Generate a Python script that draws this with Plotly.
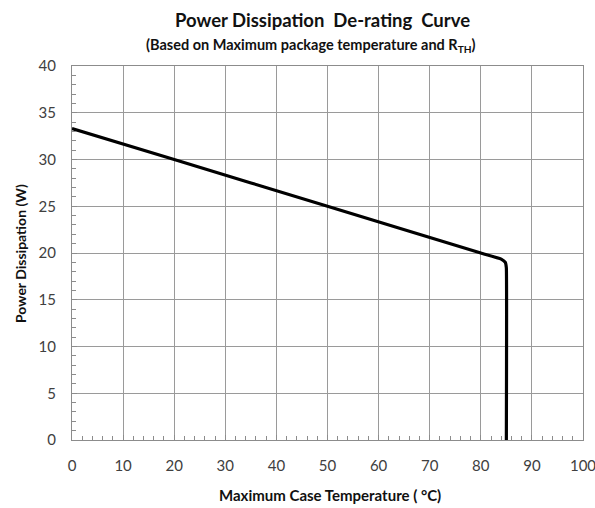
import plotly.graph_objects as go

# Data
temp_c = [0, 20, 50, 80, 84.0, 84.8, 85.0, 85.0]
power_w = [33.3, 30.0, 25.0, 20.0, 19.35, 19.0, 18.4, 0]

x_ticks = list(range(0, 101, 10))
y_ticks = list(range(0, 41, 5))

L, R, T, B = 72, 12, 66, 68
W, H = 595, 508
plot_w = W - L - R
plot_h = H - T - B

def px_x(px):
    return (px - L) / plot_w

def px_y(py):
    return (H - B - py) / plot_h

fig = go.Figure()
fig.add_trace(go.Scatter(
    x=temp_c, y=power_w, mode="lines",
    line=dict(color="black", width=3.2, shape="spline", smoothing=0.3),
    showlegend=False, hoverinfo="skip"))

font_main = "Lato, Open Sans, sans-serif"
axis_common = dict(
    automargin=False, ticklabeloverflow="allow",
    showline=True, linecolor="#8c8c8c", linewidth=1, mirror=True,
    showgrid=True, gridcolor="#9a9a9a", gridwidth=1, zeroline=False,
    ticks="inside", ticklen=5, tickcolor="#8c8c8c",
    tickfont=dict(family=font_main, size=15, color="#404040"),
)

fig.update_layout(
    width=W, height=H,
    margin=dict(l=L, r=R, t=T, b=B),
    paper_bgcolor="white", plot_bgcolor="white",
    font=dict(family=font_main, color="#111111"),
    xaxis=dict(range=[0, 100], tickvals=x_ticks, ticklabelstandoff=12,
               minor=dict(dtick=2, ticks="inside", ticklen=4, tickcolor="#8c8c8c", showgrid=False),
               **axis_common),
    yaxis=dict(range=[0, 40], tickvals=y_ticks, ticklabelstandoff=12,
               minor=dict(dtick=1, ticks="inside", ticklen=4, tickcolor="#8c8c8c", showgrid=False),
               **axis_common),
)

annots = [
    dict(text="<b>Power Dissipation  De-rating  Curve</b>", x=px_x(322), y=px_y(20),
         font=dict(family=font_main, size=18.5, color="#111111")),
    dict(text="<b>(Based on Maximum package temperature and R<sub>TH</sub>)</b>",
         x=px_x(311), y=px_y(45),
         font=dict(family=font_main, size=14.5, color="#111111")),
    dict(text="<b>Maximum Case Temperature ( °C)</b>", x=px_x(330), y=px_y(495),
         font=dict(family=font_main, size=15, color="#111111")),
    dict(text="<b>Power Dissipation (W)</b>", x=px_x(20), y=px_y(254), textangle=-90,
         font=dict(family=font_main, size=14, color="#111111")),
]
for a in annots:
    a.update(xref="paper", yref="paper", showarrow=False,
             xanchor="center", yanchor="middle")
fig.update_layout(annotations=annots)

fig.write_html("out.html")
